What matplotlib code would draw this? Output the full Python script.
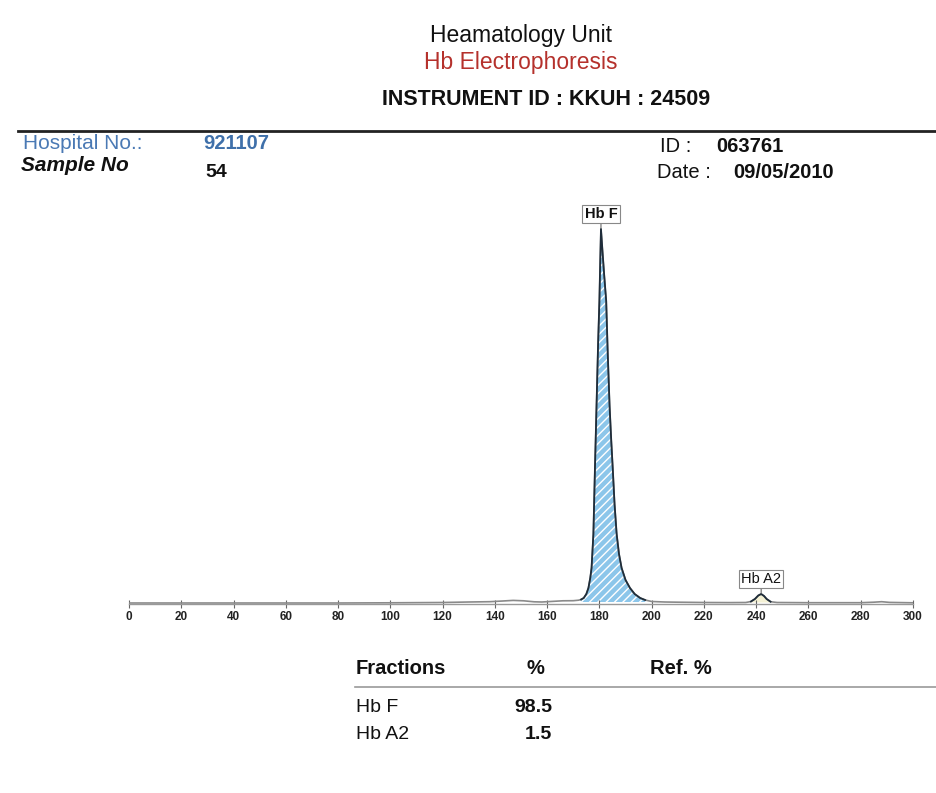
import numpy as np
import matplotlib
matplotlib.use("Agg")
import matplotlib.pyplot as plt
from matplotlib.lines import Line2D

plt.rcParams["font.family"] = ["Liberation Sans", "DejaVu Sans"]
plt.rcParams["hatch.linewidth"] = 1.0

# -----------------------
# Data
# -----------------------
trace_x = [0, 20, 40, 60, 80, 100, 120, 130, 138, 143, 147, 151, 155, 158, 162,
           166, 170, 172, 173, 174, 175, 175.8, 176.5, 177.0, 177.7, 178.3,
           178.9, 179.5, 180.0, 180.3, 180.6, 181.2, 181.8, 182.6, 183.2, 183.9,
           184.5, 185.1, 185.8, 186.6, 187.5, 188.5, 190, 191.7, 193.5, 195.6,
           197.5, 200, 205, 210, 220, 230, 236, 238, 239.5, 240.8, 241.9, 243,
           244, 245.5, 248, 260, 280, 285, 288, 291, 300]
trace_y = [1.0, 1.0, 1.0, 1.0, 1.0, 1.2, 1.5, 2.0, 2.3, 3.0, 3.6, 3.2, 2.2, 2.0, 2.6,
           3.2, 3.3, 3.8, 4.5, 6, 10, 16, 26, 36, 70, 136,
           198, 260, 303, 340, 375, 352, 330, 303, 250, 198,
           165, 136, 100, 70, 50, 36, 24, 16, 10, 6,
           4, 2.5, 2.0, 1.8, 1.5, 1.4, 1.5, 2.5, 5, 8.5, 10, 8,
           5, 2.3, 1.5, 1.3, 1.3, 1.8, 2.3, 1.6, 1.2]

peak_names = ["Hb F", "Hb A2"]
peak_x = [180.6, 241.9]
peak_h = [375, 10]
peak_start = [173, 237.5]
peak_end = [199, 246]
peak_colors = ["#8cc6ea", "#f4f1d4"]

fractions = ["Hb F", "Hb A2"]
percents = ["98.5", "1.5"]

W, H = 936, 793


def px(x, y):
    return x / W, 1 - y / H


fig = plt.figure(figsize=(W / 100, H / 100), dpi=100)
fig.patch.set_facecolor("white")

# -----------------------
# Header
# -----------------------
fig.text(*px(521, 42), "Heamatology Unit", ha="center", va="baseline",
         fontsize=16.5, color="#111")
fig.text(*px(521, 69), "Hb Electrophoresis", ha="center", va="baseline",
         fontsize=16.5, color="#b5312c")
fig.text(*px(546, 105), "INSTRUMENT ID : KKUH : 24509", ha="center",
         va="baseline", fontsize=15.5, fontweight="bold", color="#111")

fig.add_artist(Line2D([18 / W, 1], [1 - 131 / H] * 2, color="#222", lw=2))

fig.text(*px(23, 149), "Hospital No.:", fontsize=15, color="#4a79b4", va="baseline")
fig.text(*px(203, 149), "921107", fontsize=14.5, fontweight="bold",
         color="#3f70aa", va="baseline")
fig.text(*px(21, 171), "Sample No", fontsize=15, fontweight="bold",
         style="italic", color="#111", va="baseline")
fig.text(*px(205, 177), "54", fontsize=14, fontweight="bold", color="#111",
         va="baseline")
fig.text(*px(660, 152), "ID :", fontsize=14.5, color="#111", va="baseline")
fig.text(*px(716, 152), "063761", fontsize=14.5, fontweight="bold", color="#111",
         va="baseline")
fig.text(*px(657, 178), "Date :", fontsize=14.5, color="#111", va="baseline")
fig.text(*px(733, 178), "09/05/2010", fontsize=14.5, fontweight="bold",
         color="#111", va="baseline")

# -----------------------
# Electropherogram
# -----------------------
ax = fig.add_axes([129 / W, 1 - 604 / H, 784 / W, 400 / H])
x = np.array(trace_x)
y = np.array(trace_y)

for name, xp, hp, x0, x1, col in zip(peak_names, peak_x, peak_h,
                                      peak_start, peak_end, peak_colors):
    mask = (x >= x0) & (x <= x1)
    if name == "Hb F":
        ax.fill_between(x[mask], y[mask], 2.0, facecolor=col,
                        edgecolor="white", hatch="////", linewidth=0, zorder=1)
    else:
        ax.fill_between(x[mask], y[mask], 1.5, facecolor=col,
                        linewidth=0, zorder=1)
    ax.plot(x[mask], y[mask], color="#1f2d3a", lw=1.3, zorder=3)
    ax.annotate(name, xy=(xp, hp + 1), xytext=(0, 5),
                textcoords="offset points", ha="center", va="bottom",
                fontsize=10.5, fontweight="bold" if name == "Hb F" else "normal",
                color="#111",
                bbox=dict(boxstyle="square,pad=0.15", fc="white",
                          ec="#888", lw=0.8),
                arrowprops=dict(arrowstyle="-", color="#666", lw=0.8,
                                shrinkA=0, shrinkB=0))

ax.plot(x, y, color="#8a8a8a", lw=1.2, zorder=2)

ax.set_xlim(0, 300)
ax.set_ylim(0, 400)
for side in ["top", "left", "right"]:
    ax.spines[side].set_visible(False)
ax.spines["bottom"].set_color("#999")
ax.spines["bottom"].set_linewidth(1.0)
ax.set_yticks([])
ax.set_xticks(np.arange(0, 301, 20))
ax.tick_params(axis="x", direction="inout", length=6, width=0.8,
               color="#666", pad=2, labelsize=8.5, labelcolor="#222")
for lab in ax.get_xticklabels():
    lab.set_fontweight("bold")
ax.patch.set_alpha(0)

# -----------------------
# Fractions table
# -----------------------
fig.text(*px(356, 674), "Fractions", fontsize=14.5, fontweight="bold",
         color="#111", va="baseline")
fig.text(*px(535, 674), "%", fontsize=14.5, fontweight="bold", color="#111",
         va="baseline", ha="center")
fig.text(*px(650, 674), "Ref. %", fontsize=14.5, fontweight="bold",
         color="#111", va="baseline")
fig.add_artist(Line2D([355 / W, 1], [1 - 687 / H] * 2, color="#9a9a9a", lw=1.2))

for i, (fr, pc) in enumerate(zip(fractions, percents)):
    yb = 712 + 27 * i
    fig.text(*px(356, yb), fr, fontsize=14, color="#111", va="baseline")
    fig.text(*px(552, yb), pc, fontsize=14, fontweight="bold", color="#111",
             va="baseline", ha="right")

fig.savefig("out.png", dpi=100)
